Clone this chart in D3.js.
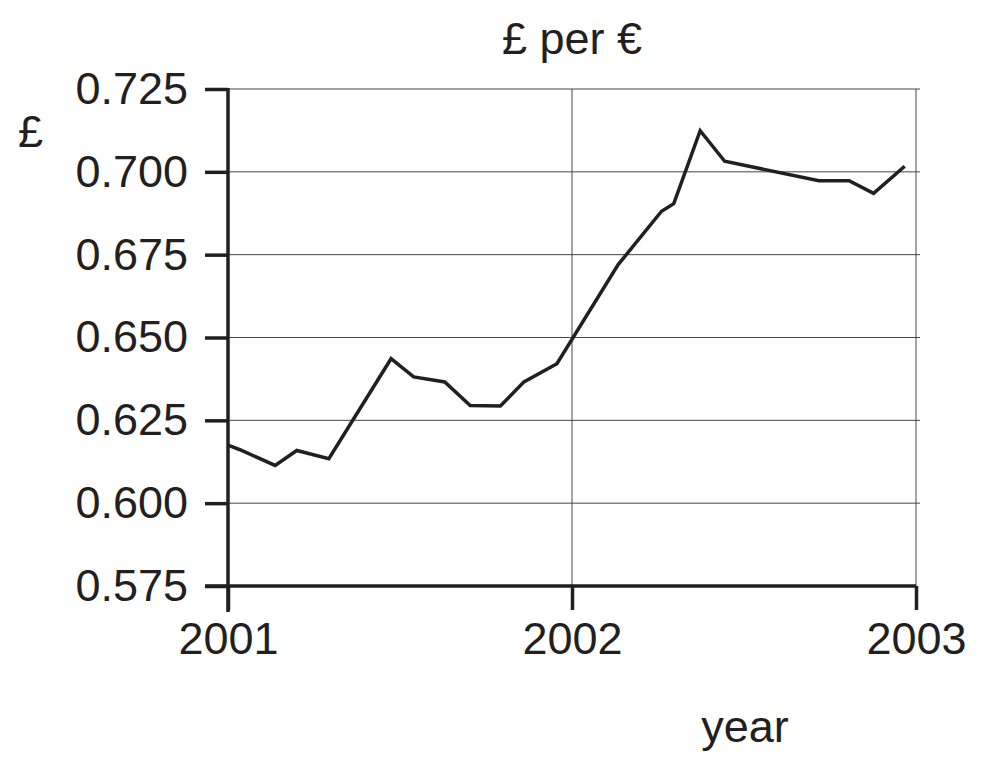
<!DOCTYPE html>
<html>
<head>
<meta charset="utf-8">
<script src="https://cdn.jsdelivr.net/npm/d3@7"></script>
<style>
  body { margin: 0; background: #fff; }
  text { font-family: "Liberation Sans", Arial, sans-serif; fill: #231f20; }
</style>
</head>
<body>
<svg id="chart" width="983" height="768"></svg>
<script>
var width = 983;
var height = 768;

// £ per € readings
var dates = ["2001-01-01", "2001-01-13", "2001-02-20", "2001-03-15", "2001-04-18",
             "2001-06-23", "2001-07-17", "2001-08-19", "2001-09-15", "2001-10-17",
             "2001-11-11", "2001-12-16", "2002-02-19", "2002-04-06", "2002-04-19",
             "2002-05-17", "2002-06-12", "2002-09-20", "2002-10-22", "2002-11-17",
             "2002-12-20"];
var rates = [0.6175, 0.6162, 0.6114, 0.6159, 0.6134,
             0.6436, 0.6381, 0.6366, 0.6295, 0.6293,
             0.6366, 0.6421, 0.6720, 0.6881, 0.6904,
             0.7124, 0.7032, 0.6973, 0.6973, 0.6935,
             0.7017];
var yTicks = [0.575, 0.600, 0.625, 0.650, 0.675, 0.700, 0.725];
var xTicks = ["2001-01-01", "2002-01-01", "2003-01-01"];

var parse = d3.timeParse("%Y-%m-%d");
var data = dates.map(function(d, i) { return { date: parse(d), value: rates[i] }; });
var xTickDates = xTicks.map(parse);

var x = d3.scaleTime()
    .domain([parse("2001-01-01"), parse("2003-01-01")])
    .range([228, 916]);
var y = d3.scaleLinear()
    .domain([0.575, 0.725])
    .range([586, 89]);

var svg = d3.select("#chart");
var ink = "#231f20";

// grid
var grid = svg.append("g");
grid.selectAll("line.h")
    .data(yTicks.slice(1))
    .enter()
    .append("line")
    .attr("x1", x.range()[0])
    .attr("x2", x.range()[1] + 4)
    .attr("y1", d => y(d))
    .attr("y2", d => y(d))
    .attr("stroke", "#444")
    .attr("stroke-width", 1);
grid.selectAll("line.v")
    .data(xTickDates.slice(1))
    .enter()
    .append("line")
    .attr("x1", d => x(d))
    .attr("x2", d => x(d))
    .attr("y1", y(0.725))
    .attr("y2", y(0.575))
    .attr("stroke", "#444")
    .attr("stroke-width", 1);

// y axis
var yAxis = svg.append("g")
    .attr("transform", "translate(" + x.range()[0] + ",0)")
    .call(d3.axisLeft(y).tickValues(yTicks).tickFormat(d3.format(".3f"))
        .tickSize(23).tickPadding(17));
yAxis.select(".domain").remove();
yAxis.selectAll("line").attr("stroke", ink).attr("stroke-width", 3.5);
yAxis.selectAll("text").style("font-size", "45px").attr("fill", ink);

// x axis
var xAxis = svg.append("g")
    .attr("transform", "translate(0," + y(0.575) + ")")
    .call(d3.axisBottom(x).tickValues(xTickDates).tickFormat(d3.timeFormat("%Y"))
        .tickSize(24).tickPadding(12));
xAxis.select(".domain").remove();
xAxis.selectAll("line").attr("stroke", ink).attr("stroke-width", 3.5);
xAxis.selectAll("text").style("font-size", "45px").attr("fill", ink);

// axis lines
svg.append("line")
    .attr("x1", x.range()[0]).attr("x2", x.range()[0])
    .attr("y1", y(0.725) - 1).attr("y2", y(0.575) + 26)
    .attr("stroke", ink).attr("stroke-width", 3.5);
svg.append("line")
    .attr("x1", x.range()[0] - 23).attr("x2", x.range()[1])
    .attr("y1", y(0.575)).attr("y2", y(0.575))
    .attr("stroke", ink).attr("stroke-width", 3.5);

// line
var line = d3.line()
    .x(d => x(d.date))
    .y(d => y(d.value));
svg.append("path")
    .datum(data)
    .attr("d", line)
    .attr("fill", "none")
    .attr("stroke", ink)
    .attr("stroke-width", 3.5)
    .attr("stroke-linejoin", "miter");

// titles
svg.append("text")
    .attr("x", 572).attr("y", 54)
    .attr("text-anchor", "middle")
    .style("font-size", "45px")
    .text("£ per €");
svg.append("text")
    .attr("x", 18).attr("y", 147)
    .style("font-size", "45px")
    .text("£");
svg.append("text")
    .attr("x", 745).attr("y", 742)
    .attr("text-anchor", "middle")
    .style("font-size", "45px")
    .text("year");
</script>
</body>
</html>
